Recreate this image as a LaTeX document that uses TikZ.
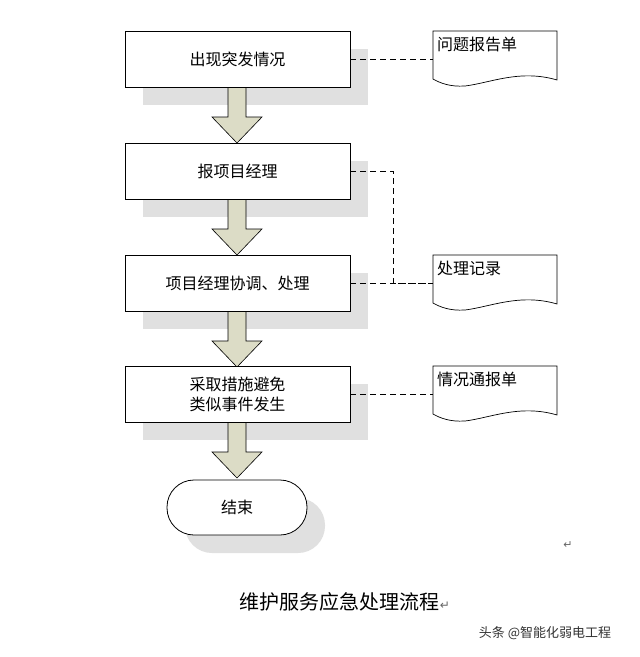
\documentclass[tikz,border=0pt]{standalone}
\usepackage{fontspec}
\setmainfont{Noto Sans CJK SC}
\newfontfamily\symfont{DejaVu Sans}
\usetikzlibrary{calc}
\definecolor{arrfill}{HTML}{DCDCC6}
\begin{document}
\begin{tikzpicture}[x=1pt,y=-1pt,
  box/.style={draw=black,fill=white,line width=0.8pt,minimum width=225pt,minimum height=56pt,inner sep=0pt,font=\fontsize{16}{20}\selectfont},
  shad/.style={fill=black!12,draw=none},
  dashc/.style={line width=0.7pt,dash pattern=on 6pt off 4pt},
  bigarrow/.style={fill=arrfill,draw=black,line width=0.6pt},
  doctext/.style={font=\fontsize{16}{20}\selectfont,anchor=north west,inner sep=0pt}]
\useasboundingbox (0,0) rectangle (640,657);
\fill[white] (0,0) rectangle (640,657);
% shadows
\foreach \y in {31,143,255,366}{\fill[shad] (143,\y+18) rectangle (368,\y+74);}
\fill[shad,rounded corners=27pt] (185,498) rectangle (325,553);
% arrows
\foreach \y in {87,199,311,422}{
 \draw[bigarrow] (228,\y) -- (246,\y) -- (246,\y+30) -- (262,\y+30) -- (237,\y+56) -- (212,\y+30) -- (228,\y+30) -- cycle;}
% boxes
\node[box] (b1) at (237.5,59) {出现突发情况};
\node[box] (b2) at (237.5,171) {报项目经理};
\node[box] (b3) at (237.5,283) {项目经理协调、处理};
\node[box,align=center] (b4) at (237.5,394) {采取措施避免\\类似事件发生};
\node[draw=black,fill=white,line width=0.8pt,rounded corners=27pt,minimum width=140pt,minimum height=55pt,inner sep=0pt,font=\fontsize{16}{20}\selectfont] (e) at (237,507.5) {结束};
% documents
\foreach \n/\y/\t in {d1/31/问题报告单,d2/255/处理记录,d3/366/情况通报单}{
 \draw[line width=0.7pt,fill=white] (433,\y) -- (557,\y) -- (557,\y+49)
   .. controls (520,\y+38) and (490,\y+52) .. (465,\y+55)
   .. controls (450,\y+56) and (440,\y+52) .. (433,\y+48) -- cycle;
 \coordinate (\n) at (433,\y+28);
 \node[doctext] at (437,\y+6) {\t};}
% dashed connectors
\draw[dashc] (b1.east) -- (b1.east -| d1);
\draw[dashc] (b2.east) -- (393,171) -- (393,283) -- (433,283);
\draw[dashc] (b3.east) -- (433,283);
\draw[dashc] (b4.east) -- (433,394);
\node[font=\symfont\fontsize{11}{12}\selectfont,text=black!60] (m1) at (568,545) {↵};
\node[font=\fontsize{20}{24}\selectfont] (cap) at (345,602) {维护服务应急处理流程\textcolor{black!60}{\symfont\fontsize{12}{12}\selectfont ↵}};
\node[font=\fontsize{13}{16}\selectfont,text=black!80] (wm) at (545,633) {头条 @智能化弱电工程};
\end{tikzpicture}
\end{document}
